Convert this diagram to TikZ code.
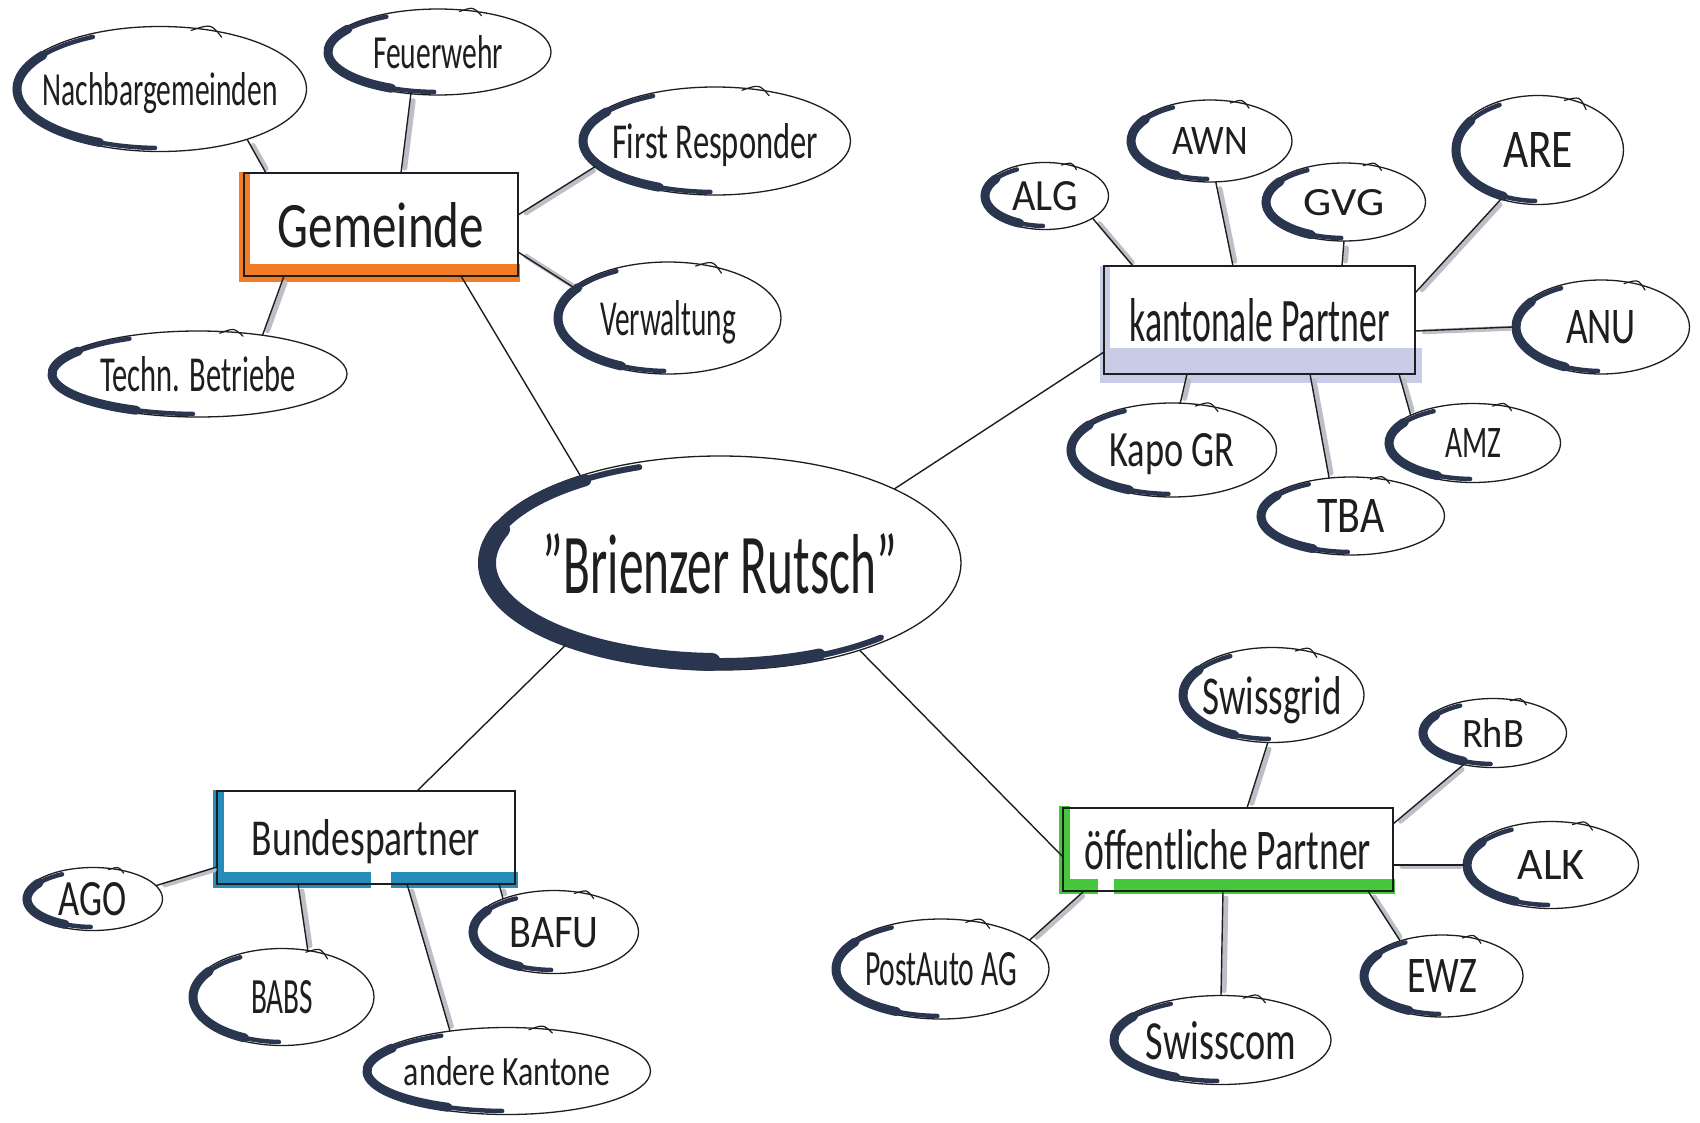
\documentclass[tikz,border=0pt]{standalone}
\usepackage{fontspec}
\setmainfont{Carlito}
\usepackage{graphicx}
\usetikzlibrary{shapes.geometric,calc}
\definecolor{ink}{RGB}{30,30,32}
\definecolor{navy}{RGB}{42,54,80}
\definecolor{shade}{RGB}{188,191,198}
\definecolor{orangeM}{RGB}{240,125,38}
\definecolor{lavM}{RGB}{200,204,230}
\definecolor{blueM}{RGB}{38,140,185}
\definecolor{greenM}{RGB}{70,200,60}
\newcommand{\lab}[3]{\makebox[0pt]{\smash{\raisebox{-.5\height}{\resizebox{#1}{#2}{#3}}}}}
\newcommand{\satarc}[3]{%
  \draw[marker, line width=4.5pt] ($(#1.center)+(118:#2pt and #3pt)$) arc[start angle=118, end angle=268, x radius=#2pt, y radius=#3pt];
  \draw[marker, line width=9pt] ($(#1.center)+(145:#2pt and #3pt)$) arc[start angle=145, end angle=245, x radius=#2pt, y radius=#3pt];
  \draw[penline] ($(#1.center)!0.96!(#1.62)$) .. controls ($(#1.center)!1.10!(#1.52)$) .. ($(#1.center)!0.93!(#1.40)$);}
\newcommand{\link}[2]{%
  \draw[shadowline, transform canvas={xshift=3pt,yshift=-1pt}] #1 -- #2;
  \draw[conn] #1 -- #2;}
\tikzset{
  sat/.style={ellipse, draw=ink, line width=1.3pt, inner sep=0pt, outer sep=0pt, text=ink},
  boxn/.style={rectangle, draw=ink, line width=1.5pt, inner sep=0pt, outer sep=0pt, text=ink},
  conn/.style={draw=ink, line width=1.4pt},
  penline/.style={draw=ink, line width=1.2pt, line cap=round},
  shadowline/.style={draw=shade, line width=5pt, line cap=round, shorten >=6pt, shorten <=6pt},
  marker/.style={draw=navy, line cap=round},
}
\begin{document}
\begin{tikzpicture}[x=1pt,y=-1pt]
\fill[white] (0,0) rectangle (1700,1122);
\useasboundingbox (0,0) rectangle (1700,1122);

% colour bars behind the boxes
\fill[orangeM] (239,172) rectangle (250,282);
\fill[orangeM] (239,264) rectangle (520,282);
\fill[lavM] (1100,266) rectangle (1110,382);
\fill[lavM] (1100,348) rectangle (1422,383);
\fill[greenM] (1059,806) rectangle (1070,894);
\fill[greenM] (1059,879) rectangle (1098,894);
\fill[greenM] (1114,879) rectangle (1395,894);
\fill[blueM] (213,790) rectangle (224,888);
\fill[blueM] (213,872) rectangle (371,888);
\fill[blueM] (391,872) rectangle (518,888);

% centre
\node[sat, minimum width=482pt, minimum height=214pt] (br) at (720,563)
  {\lab{354pt}{60pt}{"Brienzer Rutsch"}};
\draw[marker, line width=6pt] ($(br.center)+(110:236pt and 102pt)$) arc[start angle=110, end angle=313, x radius=236pt, y radius=102pt];
\draw[marker, line width=12pt] ($(br.center)+(125:235pt and 101pt)$) arc[start angle=125, end angle=295, x radius=235pt, y radius=101pt];
\draw[marker, line width=18pt] ($(br.center)+(160:233pt and 99pt)$) arc[start angle=160, end angle=268, x radius=233pt, y radius=99pt];

% boxes
\node[boxn, minimum width=274pt, minimum height=103pt] (gem) at (381,224.5) {\lab{206pt}{45pt}{Gemeinde}};
\node[boxn, minimum width=311pt, minimum height=108pt] (kant) at (1259.5,320) {\lab{260pt}{43pt}{kantonale Partner}};
\node[boxn, minimum width=330pt, minimum height=83pt] (oef) at (1228,849.5) {\lab{286pt}{40pt}{öffentliche Partner}};
\node[boxn, minimum width=298pt, minimum height=93pt] (bund) at (366,837.5) {\lab{228pt}{36pt}{Bundespartner}};

% Gemeinde satellites
\node[sat, minimum width=293pt, minimum height=125pt] (nach) at (160,89) {\lab{235pt}{33pt}{Nachbargemeinden}};
\node[sat, minimum width=226pt, minimum height=86pt] (feu) at (438,52) {\lab{130pt}{33pt}{Feuerwehr}};
\node[sat, minimum width=271pt, minimum height=108pt] (first) at (715,141) {\lab{206pt}{35pt}{First Responder}};
\node[sat, minimum width=226pt, minimum height=112pt] (verw) at (668,318) {\lab{136pt}{35pt}{Verwaltung}};
\node[sat, minimum width=298pt, minimum height=86pt] (techn) at (198,374) {\lab{195pt}{35pt}{Techn. Betriebe}};
\satarc{nach}{143}{59}
\satarc{feu}{110}{40}
\satarc{first}{132}{51}
\satarc{verw}{110}{53}
\satarc{techn}{146}{40}

% kantonale satellites
\node[sat, minimum width=127pt, minimum height=67pt] (alg) at (1045,196) {\lab{65pt}{29pt}{ALG}};
\node[sat, minimum width=164pt, minimum height=82pt] (awn) at (1210,141) {\lab{76pt}{27pt}{AWN}};
\node[sat, minimum width=163pt, minimum height=78pt] (gvg) at (1344,202) {\lab{81pt}{26pt}{GVG}};
\node[sat, minimum width=171pt, minimum height=109pt] (are) at (1538,150) {\lab{70pt}{35pt}{ARE}};
\node[sat, minimum width=177pt, minimum height=94pt] (anu) at (1601,327) {\lab{70pt}{33pt}{ANU}};
\node[sat, minimum width=175pt, minimum height=79pt] (amz) at (1473,443) {\lab{56pt}{29pt}{AMZ}};
\node[sat, minimum width=187pt, minimum height=78pt] (tba) at (1351,516) {\lab{67pt}{33pt}{TBA}};
\node[sat, minimum width=209pt, minimum height=94pt] (kapo) at (1172,450) {\lab{125pt}{33pt}{Kapo GR}};
\satarc{alg}{60}{30}
\satarc{awn}{79}{38}
\satarc{gvg}{78}{36}
\satarc{are}{82}{51}
\satarc{anu}{85}{44}
\satarc{amz}{84}{36}
\satarc{tba}{90}{36}
\satarc{kapo}{101}{44}

% oeffentliche satellites
\node[sat, minimum width=184pt, minimum height=95pt] (sg) at (1272,695) {\lab{139pt}{38pt}{Swissgrid}};
\node[sat, minimum width=147pt, minimum height=69pt] (rhb) at (1493,733) {\lab{62pt}{29pt}{RhB}};
\node[sat, minimum width=175pt, minimum height=87pt] (alk) at (1551,865) {\lab{67pt}{29pt}{ALK}};
\node[sat, minimum width=162pt, minimum height=82pt] (ewz) at (1442,976) {\lab{70pt}{33pt}{EWZ}};
\node[sat, minimum width=220pt, minimum height=89pt] (swc) at (1221,1040) {\lab{150pt}{38pt}{Swisscom}};
\node[sat, minimum width=216pt, minimum height=100pt] (pa) at (941,969) {\lab{152pt}{33pt}{PostAuto AG}};
\satarc{sg}{89}{44}
\satarc{rhb}{70}{31}
\satarc{alk}{84}{40}
\satarc{ewz}{78}{38}
\satarc{swc}{107}{41}
\satarc{pa}{105}{47}

% Bundes satellites
\node[sat, minimum width=139pt, minimum height=63pt] (ago) at (93,899) {\lab{68pt}{33pt}{AGO}};
\node[sat, minimum width=184pt, minimum height=97pt] (babs) at (282,997) {\lab{62pt}{33pt}{BABS}};
\node[sat, minimum width=287pt, minimum height=87pt] (ak) at (507,1071) {\lab{206pt}{29pt}{andere Kantone}};
\node[sat, minimum width=169pt, minimum height=83pt] (bafu) at (554,932) {\lab{89pt}{30pt}{BAFU}};
\satarc{ago}{66}{28}
\satarc{babs}{89}{45}
\satarc{ak}{140}{40}
\satarc{bafu}{81}{38}

% main connectors
\draw[conn] ([xshift=217pt]gem.south west) -- (br.148);
\draw[conn] (br.23) -- ([yshift=-32pt]kant.west);
\draw[conn] (br.328) -- ([yshift=-7.5pt]oef.west);
\draw[conn] (br.208) -- ([xshift=200pt]bund.north west);

% Gemeinde links
\link{([xshift=22pt]gem.north west)}{(nach.330)}
\link{([xshift=157pt]gem.north west)}{(feu.237)}
\link{([yshift=9.5pt]gem.east)}{(first.192)}
\link{([yshift=-27.5pt]gem.east)}{(verw.162)}
\link{([xshift=40pt]gem.south west)}{(techn.31)}

% kantonale links
\link{([xshift=29pt]kant.north west)}{(alg.335)}
\link{([xshift=129pt]kant.north west)}{(awn.278)}
\link{([xshift=238pt]kant.north west)}{(gvg.270)}
\link{([yshift=27pt]kant.east)}{(are.233)}
\link{([yshift=-11pt]kant.east)}{(anu.180)}
\link{([xshift=295pt]kant.south west)}{(amz.156)}
\link{([xshift=206pt]kant.south west)}{(tba.120)}
\link{([xshift=83pt]kant.south west)}{(kapo.80)}

% oeffentliche links
\link{([xshift=184pt]oef.north west)}{(sg.265)}
\link{([yshift=25.5pt]oef.east)}{(rhb.227)}
\link{([yshift=-15.5pt]oef.east)}{(alk.180)}
\link{([xshift=305pt]oef.south west)}{(ewz.140)}
\link{([xshift=160pt]oef.south west)}{(swc.90)}
\link{([xshift=21pt]oef.south west)}{(pa.18)}

% Bundes links
\link{([yshift=-29.5pt]bund.west)}{(ago.12)}
\link{([xshift=81pt]bund.south west)}{(babs.61)}
\link{([xshift=190pt]bund.south west)}{(ak.145)}
\link{([xshift=282pt]bund.south west)}{(bafu.147)}
\end{tikzpicture}
\end{document}
